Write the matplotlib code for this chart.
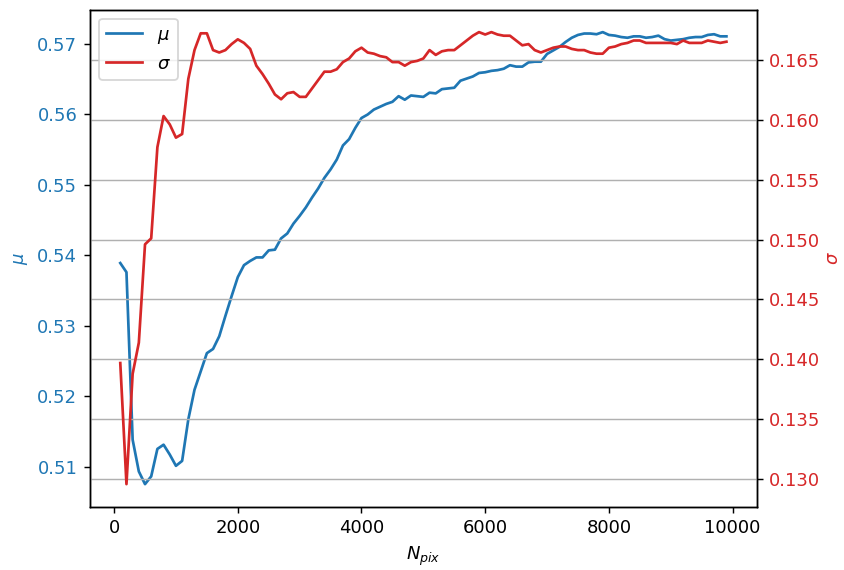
import matplotlib
matplotlib.use("Agg")
import matplotlib.pyplot as plt
import numpy as np

# N_pix sampled every 100 pixels
n_pix = list(range(100, 10000, 100))

mu = [0.5389, 0.5376, 0.5138, 0.5093, 0.5075, 0.5086, 0.5125, 0.5131, 0.5117, 0.5101,
      0.5108, 0.5167, 0.5209, 0.5235, 0.5261, 0.5267, 0.5285, 0.5314, 0.5342, 0.5369,
      0.5386, 0.5392, 0.5397, 0.5397, 0.5407, 0.5408, 0.5424, 0.5431, 0.5445, 0.5456,
      0.5468, 0.5482, 0.5495, 0.5510, 0.5522, 0.5536, 0.5556, 0.5565, 0.5581, 0.5595,
      0.5600, 0.5607, 0.5611, 0.5615, 0.5618, 0.5626, 0.5621, 0.5627, 0.5626, 0.5625,
      0.5631, 0.5630, 0.5636, 0.5637, 0.5638, 0.5648, 0.5651, 0.5654, 0.5659, 0.5660,
      0.5662, 0.5663, 0.5665, 0.5670, 0.5668, 0.5668, 0.5674, 0.5675, 0.5675, 0.5686,
      0.5691, 0.5696, 0.5703, 0.5709, 0.5713, 0.5715, 0.5715, 0.5714, 0.5717, 0.5713,
      0.5712, 0.5710, 0.5709, 0.5711, 0.5711, 0.5709, 0.5710, 0.5712, 0.5707, 0.5705,
      0.5706, 0.5707, 0.5709, 0.5710, 0.5710, 0.5713, 0.5714, 0.5711, 0.5711]

sigma = [0.1397, 0.1296, 0.1388, 0.1414, 0.1496, 0.1501, 0.1577, 0.1603, 0.1596, 0.1585,
         0.1588, 0.1634, 0.1658, 0.1672, 0.1672, 0.1658, 0.1656, 0.1658, 0.1663, 0.1667,
         0.1664, 0.1659, 0.1645, 0.1638, 0.1630, 0.1621, 0.1617, 0.1622, 0.1623, 0.1619,
         0.1619, 0.1626, 0.1633, 0.1640, 0.1640, 0.1642, 0.1648, 0.1651, 0.1657, 0.1660,
         0.1656, 0.1655, 0.1653, 0.1652, 0.1648, 0.1648, 0.1645, 0.1648, 0.1649, 0.1651,
         0.1658, 0.1654, 0.1657, 0.1658, 0.1658, 0.1662, 0.1666, 0.1670, 0.1673, 0.1671,
         0.1673, 0.1671, 0.1670, 0.1670, 0.1666, 0.1662, 0.1663, 0.1658, 0.1656, 0.1658,
         0.1660, 0.1661, 0.1661, 0.1659, 0.1658, 0.1658, 0.1656, 0.1655, 0.1655, 0.1660,
         0.1661, 0.1663, 0.1664, 0.1666, 0.1666, 0.1664, 0.1664, 0.1664, 0.1664, 0.1664,
         0.1663, 0.1666, 0.1664, 0.1664, 0.1664, 0.1666, 0.1665, 0.1664, 0.1665]

fig, ax = plt.subplots(figsize=(844 / 130, 570 / 130), dpi=130)
fig.subplots_adjust(left=0.1066, right=0.8966, top=0.9833, bottom=0.111)

l1, = ax.plot(n_pix, mu, color="tab:blue", label=r"$\mu$")
ax.set_xlabel(r"$N_{pix}$")
ax.set_ylabel(r"$\mu$", color="tab:blue")
ax.tick_params(axis="y", labelcolor="tab:blue")

ax2 = ax.twinx()
l2, = ax2.plot(n_pix, sigma, color="tab:red", label=r"$\sigma$")
ax2.set_ylabel(r"$\sigma$", color="tab:red", labelpad=2)
ax2.tick_params(axis="y", labelcolor="tab:red")
ax2.grid(axis="y")

ax2.legend(handles=[l1, l2], loc="upper left")
fig.savefig("out.png", dpi=130)
